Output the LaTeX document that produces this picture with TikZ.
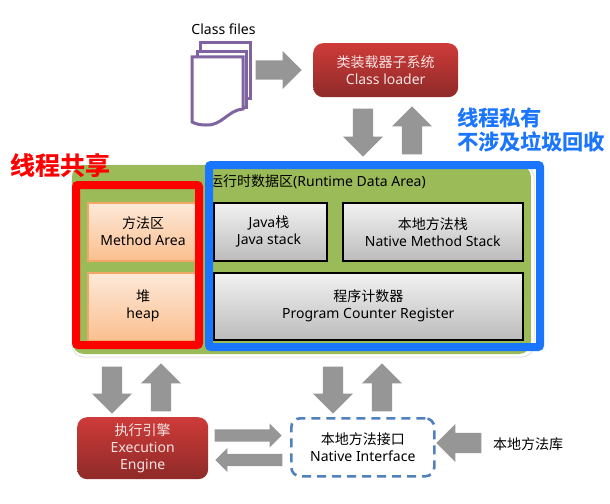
\documentclass[tikz,border=0pt]{standalone}
\usepackage{fontspec}
\usetikzlibrary{shapes.arrows,positioning}
\setmainfont{Noto Sans}
\newfontfamily\cjk{Noto Sans CJK SC}
\newfontfamily\cjkb[FakeBold=0.6]{Noto Sans CJK SC Bold}
\definecolor{arrowgrey}{HTML}{969696}
\definecolor{panelgreen}{HTML}{9BBB59}
\definecolor{sharedred}{HTML}{FF0000}
\definecolor{privblue}{HTML}{1A75FF}
\definecolor{dashblue}{HTML}{4F81BD}
\definecolor{filepurple}{HTML}{8064A2}
\definecolor{redtop}{HTML}{CE3B39}
\definecolor{redbot}{HTML}{8E2A28}
\definecolor{redtext}{HTML}{F5E4E3}
\tikzset{
  x=1pt,y=-1pt,
  lbl/.style={font=\fontsize{14}{17}\selectfont,align=center,text=black,inner sep=0pt},
  redbox/.style={rounded corners=10pt,draw=none,top color=redtop,bottom color=redbot,text=redtext,
    font=\fontsize{14}{17}\selectfont,align=center,inner sep=0pt},
  orangebox/.style={draw={rgb,255:red,243;green,167;blue,103},line width=1.5pt,top color={rgb,255:red,253;green,233;blue,217},
    bottom color={rgb,255:red,251;green,191;blue,143},font=\fontsize{14}{17}\selectfont,align=center,inner sep=0pt},
  greybox/.style={draw=black,line width=1.5pt,top color={rgb,255:red,242;green,242;blue,242},
    bottom color={rgb,255:red,188;green,188;blue,188},font=\fontsize{14}{17}\selectfont,align=center,inner sep=0pt},
  blockarrow/.style n args={3}{single arrow,anchor=tip,fill=arrowgrey,draw=none,inner xsep=0pt,inner ysep={#3pt/2},
    minimum height=#1pt,minimum width=#2pt,single arrow head extend={(#2pt-#3pt)/2},single arrow tip angle=90},
  page/.style={draw=filepurple,line width=3pt,fill=white,line join=miter},
  callout/.style={inner sep=0pt,align=left},
}
\begin{document}
\begin{tikzpicture}
\useasboundingbox (0,0) rectangle (610,503);
\fill[white] (0,0) rectangle (610,503);
% panel
\draw[draw={rgb,255:red,228;green,228;blue,228},fill=white,line width=1pt,rounded corners=12pt] (72,165) rectangle (534,357);
\fill[panelgreen,rounded corners=12pt] (72,165) rectangle (531,354);
% inner boxes
\node[orangebox,anchor=north west,minimum width=111pt,minimum height=58pt] (method) at (87,202) {};
\node[orangebox,anchor=north west,minimum width=111pt,minimum height=68pt] (heap) at (87,272) {};
\node[lbl] (methodt) at (143,231) {{\cjk 方法区}\\Method Area};
\node[lbl] (heapt) at (143,306) {{\cjk 堆}\\heap};
\node[greybox,anchor=north west,minimum width=113pt,minimum height=58pt] (javastack) at (213,202) {};
\node[lbl] (javat) at (269,231) {Java{\cjk 栈}\\Java stack};
\node[greybox,anchor=north west,minimum width=180pt,minimum height=58pt,align=center] (nativestack) at (342,202) {{\cjk 本地方法栈}\\Native Method Stack};
\node[greybox,anchor=north west,minimum width=309pt,minimum height=67pt] (pc) at (213,272) {{\cjk 程序计数器}\\Program Counter Register};
\node[lbl,anchor=west] (areatitle) at (209,182) {{\cjk 运行时数据区}(Runtime Data Area)};
% highlight frames
\draw[sharedred,line width=8pt,rounded corners=2pt] (76,185) rectangle (199,345);
\draw[privblue,line width=8pt,rounded corners=2pt] (209,165) rectangle (540,347);
% callouts
\node[callout,anchor=center,text=sharedred,font=\fontsize{25}{28}\cjkb\selectfont] (shared) at (60,165) {线程共享};
\node[callout,anchor=west,text=privblue,font=\fontsize{21}{24}\cjkb\selectfont] (private) at (457,129.5) {线程私有\\不涉及垃圾回收};
% class files
\draw[page] (200,43) -- (250,43) -- (250,98) -- (200,98) -- cycle;
\draw[page] (197,52) -- (246,52) -- (246,107) -- (197,107) -- cycle;
\draw[page] (192,57) -- (243,57) -- (243,109) .. controls (228,110) and (222,126) .. (206,125) .. controls (200,125) and (196,124) .. (192,122) -- cycle;
\node[lbl] (classfiles) at (223.5,29) {Class files};
% red boxes
\node[redbox,anchor=north west,minimum width=145pt,minimum height=54pt] (loader) at (313,43) {{\cjk 类装载器子系统}\\Class loader};
\node[redbox,anchor=north west,minimum width=131pt,minimum height=62pt] (engine) at (77,417) {{\cjk 执行引擎}\\Execution\\Engine};
\node[anchor=north west,minimum width=143pt,minimum height=58pt,draw=dashblue,line width=2.6pt,dash pattern=on 9pt off 6pt,rounded corners=9pt,font=\fontsize{14}{17}\selectfont,align=center,inner sep=0pt] (nativeif) at (290,417) {{\cjk 本地方法接口}\\Native Interface};
\node[lbl,anchor=west] (nativelib) at (493,444) {\cjk 本地方法库};
% block arrows
\node[blockarrow={46}{38}{19}] (a1) at (302,70) {};
\node[blockarrow={48}{40}{20},rotate=-90] (a2) at (363,157) {};
\node[blockarrow={48}{40}{20},rotate=90] (a3) at (412,106) {};
\node[blockarrow={47}{40}{20},rotate=-90] (a4) at (112,414) {};
\node[blockarrow={48}{40}{20},rotate=90] (a5) at (161,363) {};
\node[blockarrow={47}{40}{20},rotate=-90] (a6) at (333,414) {};
\node[blockarrow={48}{40}{20},rotate=90] (a7) at (382,363) {};
\node[blockarrow={67}{24}{12}] (a8) at (282,435.5) {};
\node[blockarrow={67}{24}{12},rotate=180] (a9) at (215,460) {};
\node[blockarrow={45}{38}{20},rotate=180] (a10) at (436,443) {};
\end{tikzpicture}
\end{document}
